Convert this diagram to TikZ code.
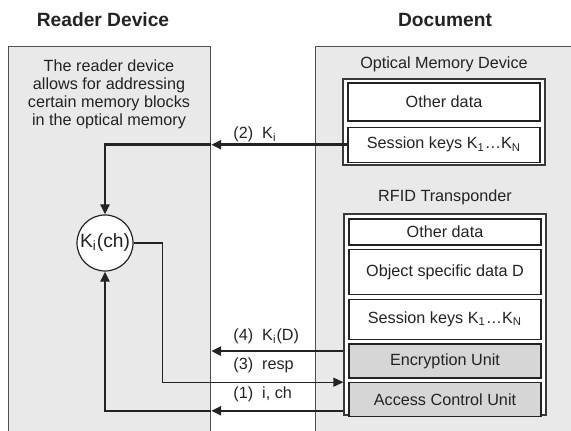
\documentclass[tikz,border=0pt]{standalone}
\usepackage{fontspec}
\setmainfont{Liberation Sans}
\usetikzlibrary{
  arrows.meta,
  positioning
}
\tikzset{
  every node/.style={inner sep=1pt}
}
\definecolor{panelGray}{RGB}{233, 233, 233}
\definecolor{panelGrayBorder}{RGB}{80, 80, 80}
\definecolor{unitGray}{RGB}{214, 214, 214}
\definecolor{lineDark}{RGB}{35, 35, 35}

\begin{document}
\begin{tikzpicture}[
    x=0.5pt, y=-0.5pt,
    font=\fontsize{8.1}{9}\selectfont,
    text=lineDark,
    panel/.style={rectangle, draw=panelGrayBorder, fill=panelGray, line width=0.6pt, anchor=north west, minimum height=215pt},
    title/.style={font=\fontsize{9.6}{11}\selectfont\bfseries},
    stack/.style={rectangle, draw=lineDark!90, fill=white, line width=0.6pt, minimum width=101pt},
    memcell/.style={rectangle, draw=lineDark, fill=white, line width=0.6pt, minimum width=96pt, align=center},
    unitcell/.style={memcell, fill=unitGray},
    opcircle/.style={circle, draw=lineDark, fill=white, line width=0.6pt, minimum size=28pt, inner sep=0pt, font=\fontsize{9.6}{11}\selectfont},
    msg/.style={anchor=base west},
    keyarrow/.style={-{Triangle[length=5pt, width=4.5pt]}, draw=lineDark, line width=1.3pt},
    resparrow/.style={-{Triangle[length=5pt, width=4.5pt]}, draw=lineDark, line width=0.6pt}
]

    \useasboundingbox (0,0) rectangle (571,431);

    % the two sides
    \node[panel, minimum width=101pt] (reader) at (8,46) {};
    \node[panel, minimum width=140pt] (document) at (315,46) {};

    \node[title] (readerTitle) at (103,20) {Reader Device};
    \node[title] (documentTitle) at (445,20) {Document};

    \node[align=center] (readerNote) at (109,94) {
        The reader device \\ allows for addressing \\ certain memory blocks \\ in the optical memory
    };

    % optical memory
    \node (omdLabel) at (444,64) {Optical Memory Device};
    \node[stack, minimum height=43pt] (omd) at (444,122) {};
    \node[memcell, minimum height=19pt, below=2pt of omd.north] (omdOther) {Other data};
    \node[memcell, minimum height=17.5pt, below=2.5pt of omdOther] (omdKeys) {Session keys K\textsubscript{1}\ldots K\textsubscript{N}};

    % rfid transponder
    \node (rfidLabel) at (445,197) {RFID Transponder};
    \node[stack, minimum height=100.5pt] (rfid) at (445,314.5) {};
    \node[memcell, minimum height=13pt, below=2.5pt of rfid.north] (rfidOther) {Other data};
    \node[memcell, minimum height=22.5pt, below=1.75pt of rfidOther] (rfidData) {Object specific data D};
    \node[memcell, minimum height=20pt, below=1.75pt of rfidData] (rfidKeys) {Session keys K\textsubscript{1}\ldots K\textsubscript{N}};
    \node[unitcell, minimum height=17pt, below=1.75pt of rfidKeys] (encUnit) {Encryption Unit};
    \node[unitcell, minimum height=17pt, below=1.75pt of encUnit] (acUnit) {Access Control Unit};

    % reader computation
    \node[opcircle] (kich) at (105,243) {K\textsubscript{i}(ch)};

    % messages
    \coordinate (kdOut) at ([yshift=5pt]encUnit.west);
    \coordinate (ichOut) at ([yshift=-5.5pt]acUnit.west);

    \draw[keyarrow] (omdKeys.west) -- (reader.east |- omdKeys.west);
    \draw[keyarrow] (reader.east |- omdKeys.west) -| (kich.north);
    \node[msg] (lblKi) at (231,139) {(2)~~K\textsubscript{i}};

    \draw[keyarrow] (rfid.west |- kdOut) -- (reader.east |- kdOut);
    \node[msg] (lblKiD) at (231,341) {(4)~~K\textsubscript{i}(D)};

    \draw[resparrow] (kich.east) -- ++(29,0) |- (rfid.west |- acUnit.north);
    \node[msg] (lblResp) at (231,370) {(3)~~resp};

    \draw[keyarrow] (rfid.west |- ichOut) -- (reader.east |- ichOut);
    \draw[keyarrow] (reader.east |- ichOut) -| (kich.south);
    \node[msg] (lblIch) at (231,399) {(1)~~i, ch};

\end{tikzpicture}
\end{document}
